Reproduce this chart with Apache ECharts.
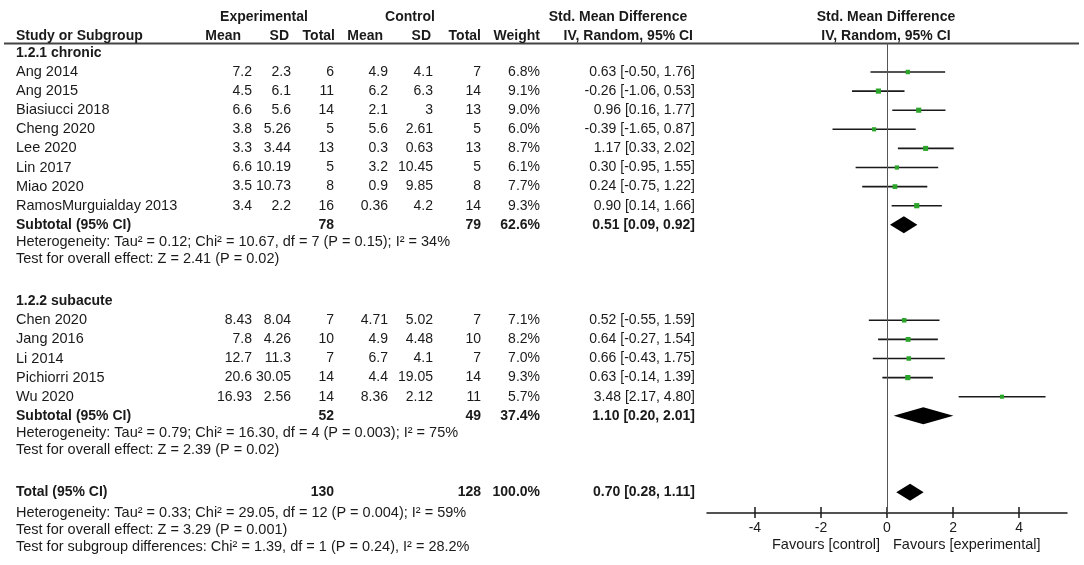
<!DOCTYPE html>
<html lang="en">
<head>
<meta charset="UTF-8">
<title>Forest plot</title>
<script src="https://cdn.jsdelivr.net/npm/echarts@6/dist/echarts.min.js"></script>
<style>
    html, body { margin: 0; padding: 0; background: #ffffff; }
    #main { width: 1084px; height: 565px; }
</style>
</head>
<body>
<div id="main"></div>
<script>
// 研究数据
var groupNames = ['1.2.1 chronic', '1.2.2 subacute'];
var studies = ['Ang 2014', 'Ang 2015', 'Biasiucci 2018', 'Cheng 2020', 'Lee 2020', 'Lin 2017', 'Miao 2020', 'RamosMurguialday 2013',
               'Chen 2020', 'Jang 2016', 'Li 2014', 'Pichiorri 2015', 'Wu 2020'];
var studyGroup = [0, 0, 0, 0, 0, 0, 0, 0, 1, 1, 1, 1, 1];
var expMean = [7.2, 4.5, 6.6, 3.8, 3.3, 6.6, 3.5, 3.4, 8.43, 7.8, 12.7, 20.6, 16.93];
var expSD = [2.3, 6.1, 5.6, 5.26, 3.44, 10.19, 10.73, 2.2, 8.04, 4.26, 11.3, 30.05, 2.56];
var expN = [6, 11, 14, 5, 13, 5, 8, 16, 7, 10, 7, 14, 14];
var ctlMean = [4.9, 6.2, 2.1, 5.6, 0.3, 3.2, 0.9, 0.36, 4.71, 4.9, 6.7, 4.4, 8.36];
var ctlSD = [4.1, 6.3, 3, 2.61, 0.63, 10.45, 9.85, 4.2, 5.02, 4.48, 4.1, 19.05, 2.12];
var ctlN = [7, 14, 13, 5, 13, 5, 8, 14, 7, 10, 7, 14, 11];
var weight = [6.8, 9.1, 9.0, 6.0, 8.7, 6.1, 7.7, 9.3, 7.1, 8.2, 7.0, 9.3, 5.7];
var smd = [0.63, -0.26, 0.96, -0.39, 1.17, 0.30, 0.24, 0.90, 0.52, 0.64, 0.66, 0.63, 3.48];
var ciLow = [-0.50, -1.06, 0.16, -1.65, 0.33, -0.95, -0.75, 0.14, -0.55, -0.27, -0.43, -0.14, 2.17];
var ciHigh = [1.76, 0.53, 1.77, 0.87, 2.02, 1.55, 1.22, 1.66, 1.59, 1.54, 1.75, 1.39, 4.80];

// 亚组合计
var subExpN = [78, 52];
var subCtlN = [79, 49];
var subWeight = [62.6, 37.4];
var subSmd = [0.51, 1.10];
var subLow = [0.09, 0.20];
var subHigh = [0.92, 2.01];
var subHet = ['Heterogeneity: Tau² = 0.12; Chi² = 10.67, df = 7 (P = 0.15); I² = 34%',
              'Heterogeneity: Tau² = 0.79; Chi² = 16.30, df = 4 (P = 0.003); I² = 75%'];
var subTest = ['Test for overall effect: Z = 2.41 (P = 0.02)',
               'Test for overall effect: Z = 2.39 (P = 0.02)'];

// 总计
var totalExpN = [130];
var totalCtlN = [128];
var totalWeight = [100.0];
var totalSmd = [0.70];
var totalLow = [0.28];
var totalHigh = [1.11];
var totalNotes = ['Heterogeneity: Tau² = 0.33; Chi² = 29.05, df = 12 (P = 0.004); I² = 59%',
                  'Test for overall effect: Z = 3.29 (P = 0.001)',
                  'Test for subgroup differences: Chi² = 1.39, df = 1 (P = 0.24), I² = 28.2%'];

var xTicks = [-4, -2, 0, 2, 4];

var TXT = '#1a1a1a';
var GREEN = '#2aa52a';
var FONT = '"Liberation Sans", Arial, sans-serif';
var ROW0 = 72, STEP = 19.1;
function kAt(px) { return (px - ROW0) / STEP; }

// 行布局
var rows = [];
var studyK = [];
var diamonds = [];
var k = -1;
groupNames.forEach(function (g, gi) {
    rows.push({k: k, kind: 'group', text: g});
    k++;
    studies.forEach(function (s, i) {
        if (studyGroup[i] === gi) {
            rows.push({k: k, kind: 'study', i: i});
            studyK[i] = k;
            k++;
        }
    });
    rows.push({k: k, kind: 'sum', label: 'Subtotal (95% CI)', e: subExpN[gi], c: subCtlN[gi],
               w: subWeight[gi], m: subSmd[gi], lo: subLow[gi], hi: subHigh[gi]});
    diamonds.push([subSmd[gi], subLow[gi], subHigh[gi], k]);
    rows.push({k: k + 0.92, kind: 'note', text: subHet[gi]});
    rows.push({k: k + 1.8, kind: 'note', text: subTest[gi]});
    k += 4;
});
rows.push({k: k, kind: 'sum', label: 'Total (95% CI)', e: totalExpN[0], c: totalCtlN[0],
           w: totalWeight[0], m: totalSmd[0], lo: totalLow[0], hi: totalHigh[0]});
diamonds.push([totalSmd[0], totalLow[0], totalHigh[0], k]);
rows.push({k: k + 1.08, kind: 'note', text: totalNotes[0]});
rows.push({k: k + 1.97, kind: 'note', text: totalNotes[1]});
rows.push({k: k + 2.87, kind: 'note', text: totalNotes[2]});

function fmtCI(m, lo, hi) {
    return m.toFixed(2) + ' [' + lo.toFixed(2) + ', ' + hi.toFixed(2) + ']';
}

function txt(x, y, s, align, bold, size) {
    return {
        type: 'text', x: x, y: y,
        style: {text: String(s), align: align, verticalAlign: 'middle', fill: TXT,
                fontSize: size || 14, fontWeight: bold ? 'bold' : 'normal', fontFamily: FONT}
    };
}

// 表格列位置 (右对齐)
var COL = {name: 16, eMean: 252, eSD: 291, eN: 334, cMean: 388, cSD: 433, cN: 481, w: 540, ci: 695};
var WORD = 14.5;

var chart = echarts.init(document.getElementById('main'));
var option = {
    animation: false,
    backgroundColor: '#ffffff',
    grid: [
        {left: 0, top: 43, width: 700, height: 517},
        {left: 707, top: 43, width: 360, height: 470}
    ],
    xAxis: [
        {gridIndex: 0, type: 'value', min: 0, max: 700, show: false},
        {
            gridIndex: 1, type: 'value', min: -5.45, max: 5.45, position: 'bottom',
            splitLine: {show: false},
            axisLine: {onZero: false, lineStyle: {color: TXT, width: 1.5}},
            axisTick: {length: 5, customValues: xTicks, lineStyle: {color: TXT, width: 1.5}},
            axisLabel: {customValues: xTicks, fontSize: 14, color: TXT, fontFamily: FONT, margin: 8}
        },
        {
            gridIndex: 1, type: 'value', min: -5.45, max: 5.45, position: 'bottom',
            splitLine: {show: false},
            axisLine: {show: false, onZero: false},
            axisTick: {inside: true, length: 6, customValues: xTicks, lineStyle: {color: TXT, width: 1.5}},
            axisLabel: {show: false}
        }
    ],
    yAxis: [
        {gridIndex: 0, type: 'value', inverse: true, min: kAt(43), max: kAt(560), show: false},
        {gridIndex: 1, type: 'value', inverse: true, min: kAt(43), max: kAt(513), show: false}
    ],
    graphic: [
        {type: 'line', shape: {x1: 4, y1: 43.5, x2: 1079, y2: 43.5}, style: {stroke: '#444', lineWidth: 2}},
        txt(264, 17, 'Experimental', 'center', true),
        txt(410, 17, 'Control', 'center', true),
        txt(618, 17, 'Std. Mean Difference', 'center', true),
        txt(886, 17, 'Std. Mean Difference', 'center', true),
        txt(16, 36, 'Study or Subgroup', 'left', true),
        txt(241, 36, 'Mean', 'right', true),
        txt(289, 36, 'SD', 'right', true),
        txt(335, 36, 'Total', 'right', true),
        txt(383, 36, 'Mean', 'right', true),
        txt(431, 36, 'SD', 'right', true),
        txt(481, 36, 'Total', 'right', true),
        txt(540, 36, 'Weight', 'right', true),
        txt(693, 36, 'IV, Random, 95% CI', 'right', true),
        txt(886, 36, 'IV, Random, 95% CI', 'center', true),
        txt(880, 545, 'Favours [control]', 'right', false, WORD),
        txt(893, 545, 'Favours [experimental]', 'left', false, WORD)
    ],
    series: [
        {
            // 表格文字
            type: 'custom', xAxisIndex: 0, yAxisIndex: 0, silent: true,
            data: rows.map(function (r) { return [0, r.k]; }),
            renderItem: function (params, api) {
                var r = rows[params.dataIndex];
                var y = api.coord([0, r.k])[1];
                var X = function (c) { return api.coord([c, r.k])[0]; };
                var ch = [];
                if (r.kind === 'group') {
                    ch.push(txt(X(COL.name), y, r.text, 'left', true));
                } else if (r.kind === 'note') {
                    ch.push(txt(X(COL.name), y, r.text, 'left', false, WORD));
                } else if (r.kind === 'study') {
                    var i = r.i;
                    ch.push(txt(X(COL.name), y, studies[i], 'left', false, WORD));
                    ch.push(txt(X(COL.eMean), y, expMean[i], 'right', false));
                    ch.push(txt(X(COL.eSD), y, expSD[i], 'right', false));
                    ch.push(txt(X(COL.eN), y, expN[i], 'right', false));
                    ch.push(txt(X(COL.cMean), y, ctlMean[i], 'right', false));
                    ch.push(txt(X(COL.cSD), y, ctlSD[i], 'right', false));
                    ch.push(txt(X(COL.cN), y, ctlN[i], 'right', false));
                    ch.push(txt(X(COL.w), y, weight[i].toFixed(1) + '%', 'right', false));
                    ch.push(txt(X(COL.ci), y, fmtCI(smd[i], ciLow[i], ciHigh[i]), 'right', false));
                } else if (r.kind === 'sum') {
                    ch.push(txt(X(COL.name), y, r.label, 'left', true));
                    ch.push(txt(X(COL.eN), y, r.e, 'right', true));
                    ch.push(txt(X(COL.cN), y, r.c, 'right', true));
                    ch.push(txt(X(COL.w), y, r.w.toFixed(1) + '%', 'right', true));
                    ch.push(txt(X(COL.ci), y, fmtCI(r.m, r.lo, r.hi), 'right', true));
                }
                return {type: 'group', children: ch};
            }
        },
        {
            // 各研究的置信区间和方块
            type: 'custom', xAxisIndex: 1, yAxisIndex: 1, silent: true,
            data: studies.map(function (s, i) { return [smd[i], ciLow[i], ciHigh[i], studyK[i], weight[i]]; }),
            encode: {x: [0, 1, 2], y: 3},
            renderItem: function (params, api) {
                var kk = api.value(3);
                var a = api.coord([api.value(1), kk]);
                var b = api.coord([api.value(2), kk]);
                var c = api.coord([api.value(0), kk]);
                var s = 5.2 * Math.sqrt(api.value(4) / 9.3);
                return {
                    type: 'group',
                    children: [
                        {type: 'line', shape: {x1: a[0], y1: a[1], x2: b[0], y2: b[1]},
                         style: {stroke: TXT, lineWidth: 1.6}},
                        {type: 'rect', shape: {x: c[0] - s / 2, y: c[1] - s / 2, width: s, height: s},
                         style: {fill: GREEN}}
                    ]
                };
            }
        },
        {
            // 合并效应菱形
            type: 'custom', xAxisIndex: 1, yAxisIndex: 1, silent: true,
            data: diamonds,
            encode: {x: [0, 1, 2], y: 3},
            renderItem: function (params, api) {
                var kk = api.value(3);
                var a = api.coord([api.value(1), kk]);
                var b = api.coord([api.value(2), kk]);
                var c = api.coord([api.value(0), kk]);
                var h = 8.5;
                return {
                    type: 'polygon',
                    shape: {points: [[a[0], a[1]], [c[0], c[1] - h], [b[0], b[1]], [c[0], c[1] + h]]},
                    style: {fill: '#000000'}
                };
            },
            markLine: {
                silent: true, symbol: 'none', label: {show: false},
                lineStyle: {color: '#555555', width: 1, type: 'solid'},
                data: [{xAxis: 0}]
            }
        }
    ]
};
chart.setOption(option);
</script>
</body>
</html>
